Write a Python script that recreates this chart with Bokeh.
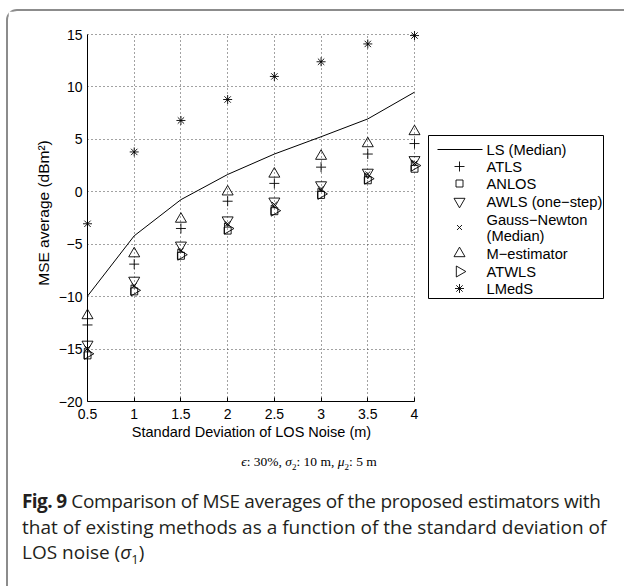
import numpy as np
from bokeh.plotting import figure
from bokeh.layouts import column, row
from bokeh.models import FixedTicker, CustomJSTickFormatter, Range1d, Div
from bokeh.core.properties import value
from bokeh.embed import file_html
from bokeh.resources import INLINE

# Standard deviation of LOS noise (m)
sigma = [0.5, 1.0, 1.5, 2.0, 2.5, 3.0, 3.5, 4.0]

# MSE averages (dBm^2) per estimator
ls_median = [-9.95, -4.2, -0.75, 1.65, 3.6, 5.25, 6.95, 9.5]
atls = [-12.7, -6.9, -3.5, -0.9, 0.8, 2.35, 3.6, 4.6]
anlos = [-15.6, -9.5, -6.1, -3.7, -1.85, -0.3, 1.1, 2.2]
awls = [-14.55, -8.45, -5.1, -2.7, -0.9, 0.65, 1.85, 3.05]
gauss_newton = [-14.95, -8.95, -5.6, -3.05, -1.2, 0.3, 1.7, 2.7]
m_estimator = [-11.8, -5.9, -2.6, 0.0, 1.7, 3.4, 4.6, 5.75]
atwls = [-15.45, -9.4, -6.0, -3.5, -1.8, -0.2, 1.25, 2.5]
lmeds = [-3.05, 3.8, 6.8, 8.8, 11.0, 12.4, 14.1, 14.9]

x_ticks = [0.5, 1, 1.5, 2, 2.5, 3, 3.5, 4]
y_ticks = [-20, -15, -10, -5, 0, 5, 10, 15]
x_lim = (0.5, 4.0)
y_lim = (-20.0, 15.0)

legend_labels = ["LS (Median)", "ATLS", "ANLOS", "AWLS (one\u2212step)",
                 "Gauss\u2212Newton", "(Median)", "M\u2212estimator", "ATWLS", "LMedS"]

FONT = "Liberation Sans"

# ---- page geometry (pixels from the page's top-left corner) ----
OX, OY = 8, 11                  # canvas origin, just inside the panel border
PAGE_W, PAGE_H = 624, 586
AX_L, AX_R, AX_T, AX_B = 87, 414, 34, 401   # axes box
FR_L, FR_R, FR_T = 78, 424, 24               # frame, a little larger than the axes box
H1 = 440
W1 = FR_R - OX
W2 = PAGE_W - FR_R
H3 = PAGE_H - OY - H1

kx = (AX_R - AX_L) / (x_lim[1] - x_lim[0])
ky = (AX_B - AX_T) / (y_lim[1] - y_lim[0])
x_range = Range1d(x_lim[0] - (AX_L - FR_L) / kx, x_lim[1] + (FR_R - AX_R) / kx)
y_range = Range1d(y_lim[0], y_lim[1] + (AX_T - FR_T) / ky)

p = figure(width=W1, height=H1, x_range=x_range, y_range=y_range,
           min_border_left=FR_L - OX, min_border_right=0,
           min_border_top=FR_T - OY, min_border_bottom=H1 - (AX_B - OY),
           output_backend="svg", toolbar_location=None,
           background_fill_color="white", border_fill_color="white",
           outline_line_color=None)

minus_fmt = CustomJSTickFormatter(code="""
    return tick < 0 ? '\u2212' + Math.abs(tick).toString() : tick.toString();
""")

p.xaxis.ticker = FixedTicker(ticks=x_ticks)
p.yaxis.ticker = FixedTicker(ticks=y_ticks)
p.xaxis.formatter = minus_fmt
p.yaxis.formatter = minus_fmt
p.xaxis.bounds = x_lim

for ax in (p.xaxis[0], p.yaxis[0]):
    ax.axis_line_color = "black"
    ax.axis_line_width = 1
    ax.major_tick_in = 4
    ax.major_tick_out = 0
    ax.major_tick_line_color = "black"
    ax.minor_tick_in = 0
    ax.minor_tick_out = 0
    ax.major_label_text_font = FONT
    ax.major_label_text_font_size = "14px"
    ax.major_label_text_color = "black"
    ax.axis_label_text_font = FONT
    ax.axis_label_text_font_size = "14.5px"
    ax.axis_label_text_font_style = "normal"
    ax.axis_label_text_color = "black"

p.xaxis.axis_label = "Standard Deviation of LOS Noise (m)"
p.xaxis.major_label_standoff = 7
p.xaxis.axis_label_standoff = 2

# The left axis sits on the frame edge; its labels are pulled in to x = 0.5
# and its rule is drawn at x = 0.5 below.
p.yaxis.axis_label = "MSE average (dBm\u00b2)"
p.yaxis.axis_label_text_font_size = "15.5px"
p.yaxis.axis_line_color = None
p.yaxis.major_tick_line_color = None
p.yaxis.major_label_standoff = -(AX_L - FR_L - 5)
p.yaxis.axis_label_standoff = 4

p.xgrid.cross_bounds = y_lim
p.ygrid.cross_bounds = x_lim
for g in (p.xgrid[0], p.ygrid[0]):
    g.grid_line_color = "#444444"
    g.grid_line_dash = "1 3"
    g.grid_line_width = 1

# y-axis rule at sigma = 0.5
p.segment(x0=[x_lim[0]], y0=[y_lim[0]], x1=[x_lim[0]], y1=[y_lim[1]],
          line_color="black", line_width=1)

# Series
MK = {
    "ATLS": dict(marker="cross", size=10, angle=0.0),
    "ANLOS": dict(marker="square", size=7, angle=0.0),
    "AWLS": dict(marker="inverted_triangle", size=11, angle=0.0),
    "GN": dict(marker="x", size=7, angle=0.0),
    "MEST": dict(marker="triangle", size=11, angle=0.0),
    "ATWLS": dict(marker="triangle", size=11, angle=-np.pi / 2),
    "LMEDS": dict(marker="asterisk", size=9, angle=0.0),
}
mk = dict(fill_color=None, line_color="black", line_width=0.9)

p.line(sigma, ls_median, line_color="black", line_width=1)
for key, ys in [("ATLS", atls), ("ANLOS", anlos), ("AWLS", awls), ("GN", gauss_newton),
                ("MEST", m_estimator), ("ATWLS", atwls), ("LMEDS", lmeds)]:
    p.scatter(sigma, ys, **MK[key], **mk)

# ---- legend panel (coordinates are page pixels) ----
lg = figure(width=W2, height=H1, x_range=Range1d(FR_R, PAGE_W), y_range=Range1d(AX_B, FR_T),
            min_border_left=0, min_border_right=0,
            min_border_top=FR_T - OY, min_border_bottom=H1 - (AX_B - OY),
            x_axis_type=None, y_axis_type=None, output_backend="svg",
            toolbar_location=None, outline_line_color=None,
            background_fill_color="white", border_fill_color="white")
lg.grid.visible = False

box_l, box_r, box_t, box_b = 428, 603, 135, 298
lg.quad(left=[box_l], right=[box_r], top=[box_t], bottom=[box_b],
        fill_color="white", line_color="black", line_width=1)

row_y = [149, 166, 183, 201, 219, 235, 253, 271, 288]
glyph_x, text_x = 459, 486
lg.segment(x0=[437], y0=[row_y[0]], x1=[482], y1=[row_y[0]], line_color="black", line_width=1)
marker_rows = [("ATLS", row_y[1]), ("ANLOS", row_y[2]), ("AWLS", row_y[3]),
               ("GN", (row_y[4] + row_y[5]) / 2), ("MEST", row_y[6]),
               ("ATWLS", row_y[7]), ("LMEDS", row_y[8])]
for key, yy in marker_rows:
    lg.scatter([glyph_x], [yy], **MK[key], **mk)
lg.text(x=[text_x] * len(legend_labels), y=row_y, text=legend_labels,
        text_font=value(FONT), text_font_size="14.7px", text_color="black",
        text_baseline="middle", text_align="left")

# ---- caption ----
TOP = OY + H1
serif_top = 462 - TOP - 7
cap_top = 502 - TOP - 13
caption_html = f"""
<div style="position:relative; width:{W1 + W2}px; height:{H3}px; background:white;">
  <div style="position:absolute; left:0; width:{2 * (309 - OX)}px; top:{serif_top}px;
              text-align:center; font-family:'Liberation Serif'; font-size:13.5px;
              line-height:14px; color:black; white-space:nowrap;">
    <i>\u03f5</i>: 30%, <i>\u03c3</i><sub style="font-size:9px;">2</sub>: 10 m,
    <i>\u03bc</i><sub style="font-size:9px;">2</sub>: 5 m
  </div>
  <div style="position:absolute; left:{22 - OX}px; top:{cap_top}px;
              font-family:'Open Sans'; font-size:19px; line-height:25.5px;
              color:#231f20; white-space:nowrap;">
    <span style="letter-spacing:-0.3px;"><b style="letter-spacing:-0.6px;">Fig. 9</b>
    Comparison of MSE averages of the proposed estimators with</span><br>
    that of existing methods as a function of the standard deviation of<br>
    LOS noise (<i>\u03c3</i><sub style="font-size:13px;">1</sub>)
  </div>
</div>
"""
caption = Div(text=caption_html, width=W1 + W2, height=H3, margin=0)

page = column(row(p, lg, spacing=0), caption, spacing=0,
              margin=(OY - 2, 0, 0, OX - 2),
              styles={"border-left": "2px solid #8c8c8c",
                      "border-top": "2px solid #8c8c8c",
                      "border-top-left-radius": "11px"})

open("out.html", "w").write(file_html(page, INLINE))
